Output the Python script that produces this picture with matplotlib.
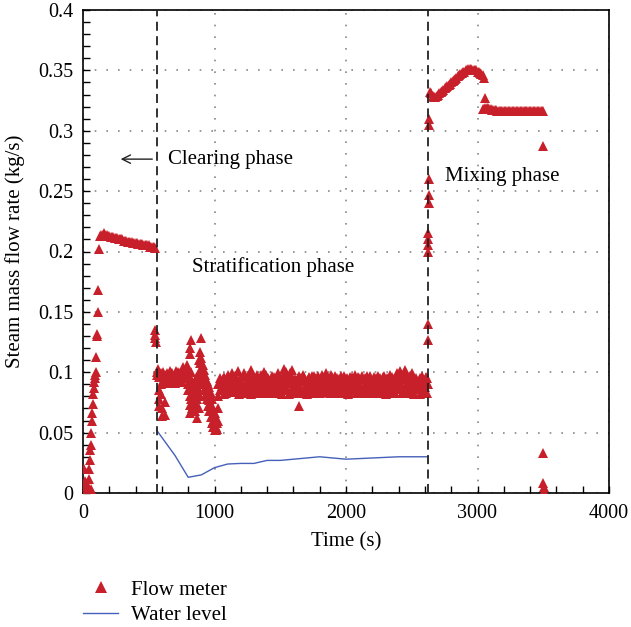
import numpy as np
import matplotlib.pyplot as plt
from matplotlib.ticker import MultipleLocator, FuncFormatter
from matplotlib.lines import Line2D

plt.rcParams['font.family'] = ['Liberation Serif', 'DejaVu Serif']
plt.rcParams['font.size'] = 15

RED = '#c8202a'
BLUE = '#4560b8'

# --- flow meter: start-up (0-120 s)
start_t = [0, 5, 8, 12, 15, 18, 22, 25, 30, 35, 40, 45, 48, 52, 55, 58, 60, 62, 65,
           68, 72, 74, 78, 82, 86, 90, 95, 98, 100, 104, 108, 112, 115, 120]
start_y = [0.0, 0.005, 0.02, 0.01, 0.0, 0.003, 0.008, 0.0, 0.002, 0.0, 0.005, 0.012,
           0.02, 0.027, 0.036, 0.04, 0.05, 0.003, 0.0, 0.06, 0.066, 0.074, 0.082,
           0.087, 0.092, 0.095, 0.098, 0.1, 0.113, 0.13, 0.132, 0.15, 0.168, 0.202]

# --- clearing phase plateau (130-550 s, every 10 s)
clear_t0, clear_dt = 130, 10
clear_y = [0.213, 0.214, 0.214, 0.215, 0.214, 0.214, 0.213, 0.213, 0.212, 0.212,
           0.212, 0.211, 0.211, 0.211, 0.210, 0.210, 0.210, 0.210, 0.209, 0.209,
           0.209, 0.208, 0.208, 0.208, 0.208, 0.207, 0.207, 0.207, 0.207, 0.206,
           0.206, 0.206, 0.206, 0.205, 0.205, 0.205, 0.205, 0.205, 0.204, 0.204,
           0.204, 0.204, 0.203]

# --- end of clearing / start of stratification (several readings per time)
strat_t = [545, 550, 555, 560, 570, 580, 590, 600, 610, 620, 630, 640, 650, 660, 670,
           680, 690, 700, 710, 720, 730, 740, 750, 760, 770, 780, 790, 800, 810, 820,
           830, 840, 850, 860, 870, 880, 890, 900, 910, 920, 930, 940, 950, 960, 970,
           980, 990, 1000, 1010, 1020, 1030, 1040]
strat_y = [[0.135, 0.131], [0.128], [0.125], [0.100, 0.098], [0.103],
           [0.096, 0.085, 0.078, 0.072], [0.099, 0.090, 0.082], [0.097, 0.070, 0.064],
           [0.100, 0.092], [0.094, 0.075, 0.065], [0.098, 0.092], [0.092, 0.099],
           [0.096, 0.091], [0.101, 0.094], [0.093, 0.099], [0.099, 0.092], [0.092, 0.097],
           [0.097, 0.091], [0.101, 0.094], [0.094, 0.100], [0.099, 0.092], [0.092, 0.098],
           [0.100, 0.093], [0.104, 0.096], [0.096, 0.101], [0.102, 0.095],
           [0.106, 0.098], [0.100, 0.090, 0.085],
           [0.120, 0.115, 0.095, 0.080, 0.073, 0.066], [0.127, 0.100, 0.088, 0.078],
           [0.093, 0.082, 0.070], [0.088, 0.078, 0.072], [0.085, 0.075, 0.068],
           [0.095, 0.082], [0.090, 0.078, 0.070, 0.062], [0.110, 0.100, 0.085, 0.070],
           [0.117, 0.108, 0.095, 0.080], [0.128, 0.112, 0.100, 0.090],
           [0.106, 0.098, 0.090], [0.102, 0.095, 0.085], [0.098, 0.090, 0.080],
           [0.093, 0.085, 0.078], [0.090, 0.080, 0.072], [0.088, 0.077, 0.068],
           [0.083, 0.072, 0.063], [0.078, 0.068, 0.058], [0.070, 0.060, 0.055],
           [0.066, 0.058, 0.052], [0.062, 0.055, 0.052], [0.058, 0.053],
           [0.090, 0.080, 0.070, 0.060], [0.095, 0.085]]

# --- stratification band, two interleaved sweeps (every 10 s, offset by 5 s)
band_t0, band_dt = 1050, 10
band_y = [0.092, 0.085, 0.096, 0.088, 0.083, 0.098, 0.090, 0.086, 0.099, 0.087,
          0.084, 0.095, 0.089, 0.101, 0.086, 0.083, 0.093, 0.088, 0.097, 0.085,
          0.090, 0.084, 0.096, 0.102, 0.088, 0.083, 0.094, 0.087, 0.092, 0.085,
          0.098, 0.086, 0.091, 0.100, 0.084, 0.089, 0.095, 0.083, 0.092, 0.087,
          0.096, 0.085, 0.090, 0.099, 0.084, 0.093, 0.088, 0.097, 0.103, 0.089,
          0.085, 0.095, 0.091, 0.084, 0.102, 0.088, 0.094, 0.086, 0.083, 0.097,
          0.089, 0.093, 0.084, 0.096, 0.087, 0.091, 0.083, 0.095, 0.088, 0.092,
          0.085, 0.097, 0.089, 0.083, 0.094, 0.090, 0.086, 0.098, 0.084, 0.092,
          0.099, 0.087, 0.093, 0.084, 0.096, 0.088, 0.091, 0.083, 0.095, 0.089,
          0.086, 0.097, 0.090, 0.084, 0.094, 0.088, 0.092, 0.083, 0.096, 0.087,
          0.093, 0.085, 0.098, 0.089, 0.084, 0.095, 0.090, 0.086, 0.094, 0.083,
          0.091, 0.097, 0.087, 0.084, 0.093, 0.089, 0.096, 0.085, 0.092, 0.088,
          0.084, 0.095, 0.090, 0.086, 0.097, 0.088, 0.083, 0.094, 0.091, 0.087,
          0.096, 0.085, 0.092, 0.089, 0.099, 0.086, 0.101, 0.090, 0.084, 0.095,
          0.102, 0.088, 0.093, 0.085, 0.097, 0.090, 0.084, 0.094, 0.087, 0.092,
          0.086, 0.095, 0.089, 0.084, 0.093, 0.088, 0.096, 0.090]
band2_t0 = 1055
band2_y = [0.089, 0.094, 0.082, 0.091, 0.095, 0.086, 0.093, 0.097, 0.084, 0.092,
           0.097, 0.087, 0.093, 0.082, 0.095, 0.090, 0.086, 0.099, 0.083, 0.092,
           0.087, 0.098, 0.082, 0.091, 0.095, 0.089, 0.083, 0.098, 0.086, 0.094,
           0.083, 0.093, 0.096, 0.087, 0.098, 0.092, 0.083, 0.090, 0.097, 0.084,
           0.088, 0.093, 0.083, 0.091, 0.096, 0.086, 0.082, 0.092, 0.095, 0.100,
           0.092, 0.082, 0.099, 0.096, 0.087, 0.093, 0.083, 0.091, 0.095, 0.086,
           0.095, 0.083, 0.098, 0.086, 0.093, 0.082, 0.096, 0.090, 0.084, 0.097,
           0.092, 0.083, 0.095, 0.097, 0.086, 0.083, 0.093, 0.089, 0.096, 0.085,
           0.091, 0.095, 0.083, 0.098, 0.085, 0.093, 0.097, 0.087, 0.083, 0.094,
           0.093, 0.083, 0.087, 0.097, 0.085, 0.095, 0.082, 0.091, 0.089, 0.096,
           0.087, 0.094, 0.083, 0.092, 0.096, 0.086, 0.083, 0.097, 0.088, 0.095,
           0.085, 0.091, 0.094, 0.097, 0.083, 0.092, 0.086, 0.095, 0.083, 0.097,
           0.093, 0.086, 0.083, 0.096, 0.091, 0.082, 0.095, 0.087, 0.098, 0.084,
           0.089, 0.094, 0.083, 0.097, 0.086, 0.093, 0.095, 0.083, 0.098, 0.087,
           0.094, 0.096, 0.083, 0.091, 0.087, 0.099, 0.082, 0.092, 0.095, 0.086,
           0.093, 0.082, 0.097, 0.091, 0.086, 0.095, 0.083]
outlier_t = [1640]
outlier_y = [0.072]

# --- jump into mixing (2618-2636 s)
jump_t = [2618, 2620, 2622, 2624, 2625, 2626, 2627, 2628, 2629, 2630, 2632, 2634]
jump_y = [0.095, 0.140, 0.127, 0.205, 0.200, 0.210, 0.215, 0.240, 0.247, 0.260,
          0.305, 0.310]

# --- mixing phase, first hump (2640-3050 s, every 10 s)
mix_t0, mix_dt = 2640, 10
mix_y = [0.332, 0.331, 0.329, 0.328, 0.328, 0.329, 0.330, 0.331, 0.332, 0.333,
         0.334, 0.335, 0.336, 0.337, 0.338, 0.339, 0.340, 0.341, 0.342, 0.343,
         0.344, 0.345, 0.346, 0.347, 0.348, 0.349, 0.349, 0.350, 0.350, 0.351,
         0.351, 0.351, 0.350, 0.350, 0.350, 0.350, 0.349, 0.349, 0.348, 0.347,
         0.346, 0.344]

# --- mixing phase, second plateau (3040-3500 s, every 10 s)
plat_t0, plat_dt = 3040, 10
plat_y = [0.318, 0.318, 0.319, 0.319, 0.319, 0.318, 0.318, 0.317, 0.317, 0.317,
          0.317, 0.316, 0.316, 0.316, 0.316, 0.316, 0.316, 0.316, 0.316, 0.316,
          0.316, 0.316, 0.316, 0.316, 0.316, 0.316, 0.316, 0.316, 0.316, 0.316,
          0.316, 0.316, 0.316, 0.316, 0.316, 0.316, 0.316, 0.316, 0.316, 0.316,
          0.316, 0.316, 0.316, 0.316, 0.316, 0.316, 0.316]

# --- shutdown
end_t = [3060, 3498, 3500, 3501, 3502, 3503, 3504]
end_y = [0.327, 0.287, 0.033, 0.008, 0.005, 0.002, 0.0]

# water level
level_t = [560, 600, 700, 800, 900, 1000, 1100, 1200, 1300, 1400, 1500, 1600,
           1700, 1800, 1900, 2000, 2100, 2200, 2300, 2400, 2500, 2620]
level_y = [0.052, 0.046, 0.031, 0.013, 0.015, 0.021, 0.024, 0.0245, 0.0245, 0.027,
           0.027, 0.028, 0.029, 0.030, 0.029, 0.028, 0.0285, 0.029, 0.0295, 0.030,
           0.030, 0.030]

phase_bounds = [560, 2620]

# assemble flow meter series
def regular(t0, dt, ys):
    return t0 + dt * np.arange(len(ys)), np.asarray(ys)

st_t = np.concatenate([[t] * len(c) for t, c in zip(strat_t, strat_y)])
st_y = np.concatenate(strat_y)
parts = [(np.asarray(start_t), np.asarray(start_y)),
         regular(clear_t0, clear_dt, clear_y),
         (st_t, st_y),
         regular(band_t0, band_dt, band_y),
         regular(band2_t0, band_dt, band2_y),
         (np.asarray(outlier_t), np.asarray(outlier_y)),
         (np.asarray(jump_t), np.asarray(jump_y)),
         regular(mix_t0, mix_dt, mix_y),
         regular(plat_t0, plat_dt, plat_y),
         (np.asarray(end_t), np.asarray(end_y))]
flow_t = np.concatenate([p[0] for p in parts])
flow_y = np.concatenate([p[1] for p in parts])

fig = plt.figure(figsize=(6.31, 6.27), dpi=100)
ax = fig.add_axes([83 / 631, 1 - 493 / 627, 526 / 631, 483 / 627])

ax.plot(flow_t, flow_y, '^', ls='none', color=RED, ms=6.8, mew=0, zorder=3)
ax.plot(level_t, level_y, color=BLUE, lw=1.0, zorder=4)

for xb in phase_bounds:
    ax.axvline(xb, color='#222222', lw=1.3, ls=(0, (5, 3)), zorder=5)

ax.set_xlim(0, 4000)
ax.set_ylim(0, 0.4)
ax.xaxis.set_major_locator(MultipleLocator(1000))
ax.xaxis.set_minor_locator(MultipleLocator(200))
ax.yaxis.set_major_locator(MultipleLocator(0.05))
ax.yaxis.set_minor_locator(MultipleLocator(0.01))
ax.yaxis.set_major_formatter(FuncFormatter(lambda v, p: f'{v:g}'))
ax.tick_params(which='both', direction='in', length=5, width=1.0,
               top=False, right=False, labelsize=14.5)
ax.tick_params(axis='x', pad=8)
ax.tick_params(axis='y', pad=7)
ax.grid(True, which='major', ls=(0, (1, 6)), color='#888888', lw=1.2)
for s in ax.spines.values():
    s.set_linewidth(1.2)

ax.set_xlabel('Time (s)')
ax.set_ylabel('Steam mass flow rate (kg/s)')
ax.xaxis.set_label_coords(0.5, -0.082)
ax.yaxis.set_label_coords(-0.11, 0.5)

ax.annotate('', xy=(265, 0.2765), xytext=(548, 0.2765),
            arrowprops=dict(arrowstyle='->', lw=1.0, color='#222222'))
ax.text(646, 0.2765, 'Clearing phase', va='center', ha='left')
ax.text(826, 0.1870, 'Stratification phase', va='center', ha='left')
ax.text(2753, 0.2620, 'Mixing phase', va='center', ha='left')

handles = [Line2D([], [], marker='^', ls='none', color=RED, ms=8, mew=0),
           Line2D([], [], color=BLUE, lw=1.0)]
fig.legend(handles, ['Flow meter', 'Water level'], loc='upper left',
           bbox_to_anchor=(83 / 631, 1 - 580 / 627), frameon=False,
           handlelength=1.7, handletextpad=0.6, labelspacing=0.3,
           borderpad=0, borderaxespad=0)

fig.savefig('out.png', dpi=100)
